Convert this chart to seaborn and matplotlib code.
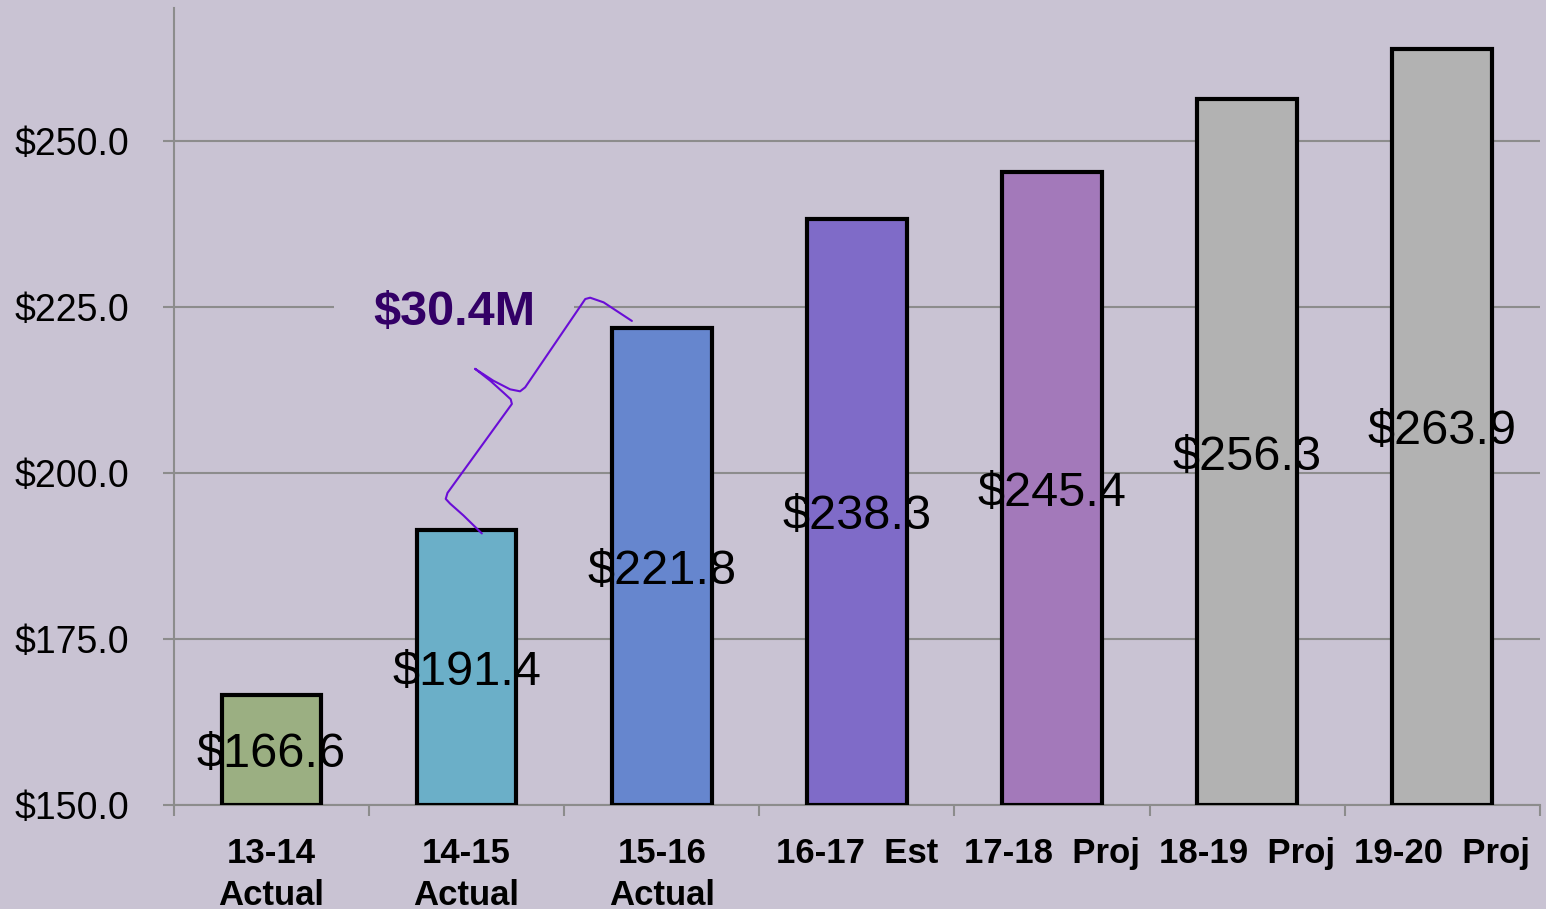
import numpy as np
import pandas as pd
import matplotlib
matplotlib.use('Agg')
import matplotlib.pyplot as plt
import seaborn as sns

# data ($ millions)
years = ['13-14\nActual', '14-15\nActual', '15-16\nActual', '16-17  Est',
         '17-18  Proj', '18-19  Proj', '19-20  Proj']
values = [166.6, 191.4, 221.8, 238.3, 245.4, 256.3, 263.9]
bar_colors = ['#9BAF82', '#6BAFC8', '#6686CE', '#7F6BC8', '#A379BA', '#B2B2B2', '#B2B2B2']
yticks = [150, 175, 200, 225, 250]
gap_label = '$30.4M'

# hand drawn brace between 14-15 and 15-16 (data coords)
brace_x = [1.078, 0.984, 0.915, 0.893, 0.902, 1.232, 1.226, 1.189, 1.121, 1.043,
           1.137, 1.223, 1.274, 1.300, 1.608, 1.633, 1.702, 1.847]
brace_y = [190.9, 193.6, 195.4, 196.1, 197.0, 210.4, 211.1, 212.1, 213.9, 215.7,
           213.9, 212.6, 212.3, 212.9, 226.2, 226.4, 225.7, 222.9]

bg = '#C9C3D3'
grid_c = '#8C8C8C'
sns.set_theme(style='white', rc={'axes.facecolor': bg, 'figure.facecolor': bg})
plt.rcParams['font.family'] = ['Liberation Sans', 'DejaVu Sans']

df = pd.DataFrame({'year': years, 'value': values})
base = yticks[0]

fig = plt.figure(figsize=(15.46, 9.09), dpi=100)
ax = fig.add_axes([0.1125, 0.1144, 0.8835, 0.8766])

sns.barplot(data=df, x='year', y='value', hue='year', palette=bar_colors,
            saturation=1, width=0.51, linewidth=0, legend=False, ax=ax, zorder=2)

# value labels sit under the bar outlines
for i, v in enumerate(values):
    ax.text(i, (v + base) / 2, f'${v:.1f}', ha='center', va='center_baseline',
            fontsize=35, color='black', zorder=3)

ax.bar(np.arange(len(values)), np.array(values) - base, bottom=base, width=0.51,
       fill=False, edgecolor='black', linewidth=3, zorder=4)

ax.set_ylim(base, 270)
ax.set_xlim(-0.5, len(values) - 0.5)
ax.set_yticks(yticks)
ax.set_yticklabels([f'${t:.1f}' for t in yticks])
ax.yaxis.grid(True, color=grid_c, linewidth=1.5)
ax.set_axisbelow(True)
ax.set_xlabel('')
ax.set_ylabel('')

for s in ['top', 'right']:
    ax.spines[s].set_visible(False)
for s in ['left', 'bottom']:
    ax.spines[s].set_color(grid_c)
    ax.spines[s].set_linewidth(1.5)

ax.tick_params(axis='y', direction='out', length=8, width=1.5, color=grid_c,
               labelsize=27, labelcolor='black', pad=24, left=True)
ax.set_xticks(np.arange(len(values)))
ax.set_xticklabels(years, fontsize=25, fontweight='bold', linespacing=1.35)
ax.set_xticks(np.arange(len(values) + 1) - 0.5, minor=True)
ax.tick_params(axis='x', which='major', length=0, pad=23, labelcolor='black')
ax.tick_params(axis='x', which='minor', direction='out', length=8, width=1.5,
               color=grid_c, bottom=True)

# increase annotation
ax.plot(brace_x, brace_y, color='#6A0DD6', linewidth=1.5, zorder=6,
        solid_capstyle='round', solid_joinstyle='round')
ax.text(0.936, 224.1, gap_label, ha='center', va='center', fontsize=35,
        fontweight='bold', color='#330066', zorder=5,
        bbox=dict(facecolor=bg, edgecolor='none', pad=28))

fig.savefig('out.png', dpi=100, facecolor=bg)
